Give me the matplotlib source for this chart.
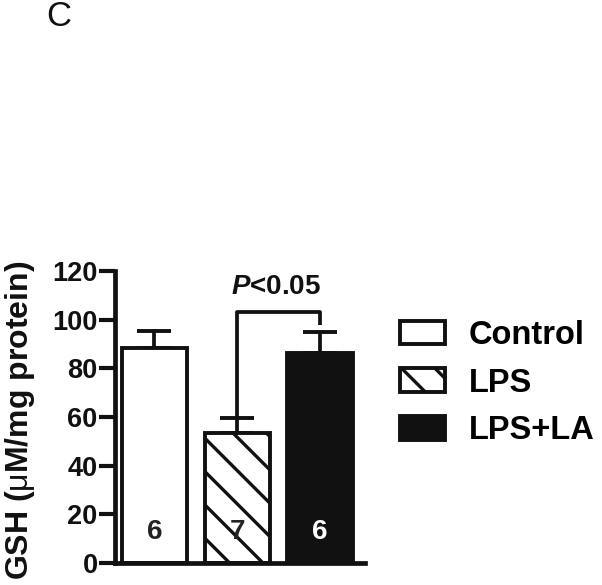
"""GSH bar chart, panel C."""

import matplotlib

matplotlib.use("Agg")
import matplotlib.pyplot as plt

groups = ["Control", "LPS", "LPS+LA"]
means = [88.4, 53.5, 86.4]
sems = [7.0, 6.2, 8.6]
n_labels = ["6", "7", "6"]
yticks = [0, 20, 40, 60, 80, 100, 120]

fills = ["white", "white", "#111111"]
hatches = [None, "\\", None]
n_colors = ["#222222", "#222222", "white"]

plt.rcParams["font.family"] = ["Liberation Sans", "DejaVu Sans"]
plt.rcParams["hatch.linewidth"] = 2.4
plt.rcParams["mathtext.fontset"] = "custom"
plt.rcParams["mathtext.rm"] = "Liberation Sans:bold"
plt.rcParams["mathtext.sf"] = "Liberation Sans"
plt.rcParams["mathtext.bfit"] = "Liberation Sans:italic:bold"

fig = plt.figure(figsize=(6.02, 5.85), dpi=100)
ax = fig.add_axes([115 / 602, 1 - 563 / 585, 250 / 602, 292 / 585])

x = list(range(len(groups)))
ax.errorbar(x, means, yerr=[[0] * 3, sems], fmt="none", ecolor="#111111",
            elinewidth=2.7, capsize=12.5, capthick=2.8, zorder=1)
bars = ax.bar(x, means, width=0.79, color=fills, edgecolor="#111111",
              linewidth=2.8, zorder=2)
for b, h in zip(bars, hatches):
    if h:
        b.set_hatch(h)

for xi, lab, c in zip(x, n_labels, n_colors):
    ax.text(xi, 12.8, lab, ha="center", va="center", fontsize=20,
            fontweight="bold", color=c, zorder=3)

# significance bracket between LPS and LPS+LA
y_br = 103.3
ax.plot([1, 1, 2, 2], [means[1] + sems[1], y_br, y_br, 97.9],
        color="#111111", lw=2.7, solid_capstyle="butt", zorder=3)
ax.text(1.47, 113.6, r"$\mathbfit{P}$<0.05", ha="center", va="center",
        fontsize=20, fontweight="bold", color="#111111")

ax.set_xlim(-0.477, 2.545)
ax.set_ylim(0, 120)
ax.set_yticks(yticks)
ax.set_xticks([])
for s in ["top", "right"]:
    ax.spines[s].set_visible(False)
for s in ["left", "bottom"]:
    ax.spines[s].set_linewidth(3.4)
    ax.spines[s].set_color("#111111")
ax.spines["left"].set_bounds(0, 120)
ax.tick_params(axis="y", length=11.5, width=3, pad=1, labelsize=19.5,
               color="#111111", labelcolor="#111111")
for t in ax.get_yticklabels():
    t.set_fontweight("bold")

ax.set_ylabel(r"GSH ($\mathsf{\mu}$M/mg protein)", fontsize=23,
              fontweight="bold", color="#111111")
ax.yaxis.set_label_coords(-0.31, 0.49)

handles = [plt.Rectangle((0, 0), 1, 1, facecolor=f, edgecolor="#111111",
                         linewidth=2.8, hatch=h)
           for f, h in zip(fills, hatches)]
leg = fig.legend(handles, groups, loc="upper left",
                 bbox_to_anchor=(400 / 602, 1 - 320 / 585),
                 frameon=False, borderpad=0, borderaxespad=0,
                 handlelength=1.38, handleheight=0.74, handletextpad=0.72,
                 labelspacing=0.51, prop={"size": 23.5, "weight": "bold"})

fig.text(59 / 602, 1 - 17 / 585, "C", ha="center", va="center",
         fontsize=25, color="#111111")

fig.savefig("out.png", dpi=100)
